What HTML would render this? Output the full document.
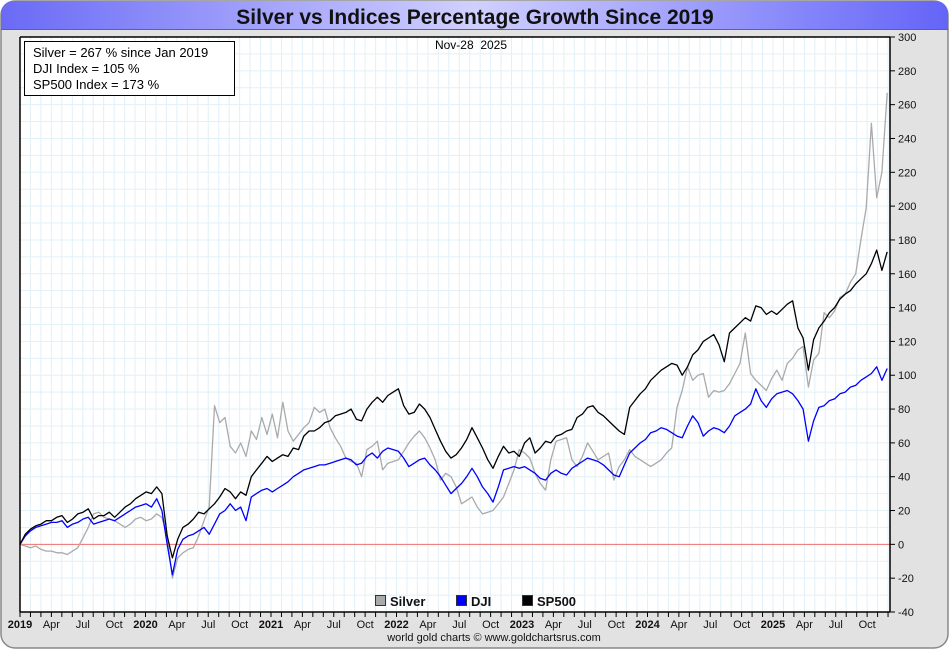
<!DOCTYPE html>
<html><head><meta charset="utf-8">
<style>
html,body{margin:0;padding:0;background:#fff;}
#wrap{position:relative;width:950px;height:650px;overflow:hidden;font-family:"Liberation Sans",sans-serif;}
svg text{font-family:"Liberation Sans",sans-serif;}
</style></head>
<body>
<div id="wrap">
<svg id="chart" width="950" height="650" viewBox="0 0 950 650">
<defs>
<linearGradient id="ban" x1="0" x2="1" y1="0" y2="0">
<stop offset="0" stop-color="#6a6af6"/><stop offset="0.5" stop-color="#d0d0ff"/><stop offset="1" stop-color="#6464f8"/>
</linearGradient>
</defs>
<rect x="1" y="1" width="947" height="647" rx="14" fill="#e2e2e2" stroke="#888" stroke-width="1.5"/>
<path d="M1,29 L1,15 Q1,1 15,1 L934,1 Q948,1 948,15 L948,29 Z" fill="url(#ban)"/>
<line x1="1" y1="29.5" x2="948" y2="29.5" stroke="#666" stroke-width="1"/>
<text x="475" y="24" text-anchor="middle" font-size="21" font-weight="bold" fill="#111">Silver vs Indices Percentage Growth Since 2019</text>
<rect x="20" y="37" width="870" height="575" fill="#fff"/>
<g id="grid"></g>
<g id="series"></g>
<line x1="20" y1="37" x2="890" y2="37" stroke="#000" stroke-width="1.5"/>
<line x1="20" y1="37" x2="20" y2="612" stroke="#000" stroke-width="1.5"/>
<line x1="20" y1="612" x2="890" y2="612" stroke="#000" stroke-width="1.5"/>
<line x1="890" y1="37" x2="890" y2="612" stroke="#000" stroke-width="1.5"/>
<g id="axes"></g>
<rect x="24.5" y="41.5" width="210" height="54" fill="#fff" stroke="#000" stroke-width="1"/>
<text x="33" y="57" font-size="13" fill="#000">Silver = 267 % since Jan 2019</text>
<text x="33" y="73" font-size="13" fill="#000">DJI Index = 105 %</text>
<text x="33" y="89" font-size="13" fill="#000">SP500 Index = 173 %</text>
<text x="471" y="49" text-anchor="middle" font-size="12" fill="#000">Nov-28&#160;&#160;2025</text>
<g>
<g><rect x="375.5" y="595.5" width="10" height="10" fill="#aaa" stroke="#333"/><text x="390" y="606" font-size="13" font-weight="bold" fill="#111">Silver</text></g>
<g><rect x="456.5" y="595.5" width="10" height="10" fill="#0000ff" stroke="#333"/><text x="471" y="606" font-size="13" font-weight="bold" fill="#111">DJI</text></g>
<g><rect x="522.5" y="595.5" width="10" height="10" fill="#000" stroke="#333"/><text x="537" y="606" font-size="13" font-weight="bold" fill="#111">SP500</text></g>
</g>
<text x="494" y="641" text-anchor="middle" font-size="11" fill="#111">world gold charts © www.goldchartsrus.com</text>
</svg>
</div>
<script>
// semi-monthly values (percent growth since Jan 2019), Jan 2019 .. Nov 2025
const silverValues = [
0,-1,-2,-1,-3,-4,-4,-5,-5,-6,-4,-2,4,10,18,19,16,15,14,12,10,12,15,16,
14,15,18,16,5,-20,-8,-5,-3,-2,5,14,22,82,72,75,58,54,60,52,67,62,75,65,
77,63,84,67,61,65,69,72,81,78,80,69,63,58,51,49,48,40,56,58,61,44,48,49,
50,55,60,64,67,63,57,50,38,42,40,34,24,26,28,22,18,19,20,24,28,36,44,56,
54,51,42,36,32,50,61,62,63,50,46,52,60,55,50,52,54,38,46,50,56,52,50,48,
46,48,50,54,57,81,91,105,97,100,101,87,91,90,91,95,101,107,125,101,97,94,91,98,
103,97,107,110,115,117,93,109,113,137,134,138,146,148,155,160,180,199,249,205,220,267];
const djiValues = [
0,5,8,10,11,12,13,13,14,10,12,13,15,16,12,13,14,15,14,16,18,20,22,23,
24,22,27,20,0,-18,-3,3,5,6,8,10,6,12,18,20,24,20,22,14,28,30,32,33,
31,33,35,37,40,42,44,45,46,47,47,48,49,50,51,50,47,48,52,54,51,55,57,56,
55,51,46,48,50,51,47,44,40,35,30,33,36,40,45,40,34,30,25,34,44,45,46,45,
46,44,42,39,38,42,44,42,41,45,47,49,51,50,49,47,44,41,40,47,54,57,60,62,
66,67,69,68,66,64,63,70,76,72,64,67,69,68,66,70,76,78,80,83,92,85,81,86,
89,90,91,89,85,80,61,73,81,82,85,86,89,90,93,94,97,99,101,105,97,104];
const sp500Values = [
0,6,9,11,12,14,14,16,17,13,15,18,19,21,15,17,17,19,16,19,22,24,27,29,
31,30,34,30,5,-8,3,10,12,15,19,18,21,24,28,33,31,27,31,29,40,44,48,52,
49,51,53,52,57,56,64,67,67,69,72,73,76,77,78,80,74,73,80,84,87,84,88,90,
92,82,77,78,83,80,75,68,61,55,51,53,57,62,69,63,57,50,45,52,58,54,55,52,
60,63,54,57,61,60,64,65,67,68,75,77,81,82,78,76,73,70,67,65,81,85,89,92,
97,100,103,105,107,106,100,105,112,115,120,122,124,118,108,125,128,131,134,132,141,140,136,138,
136,139,142,144,128,122,103,121,128,132,137,140,145,148,150,154,157,160,166,174,162,173];
const yTicks = [300,280,260,240,220,200,180,160,140,120,100,80,60,40,20,0,-20,-40];
const monthLabels = ["Jan","Apr","Jul","Oct"];
const years = [2019,2020,2021,2022,2023,2024,2025];
const lastT = 6.91; // years since Jan 2019 at last point

const NS="http://www.w3.org/2000/svg";
const X0=20, X1=890, Y0=37, Y1=612, YMIN=-40, YMAX=300, PXYEAR=125.5;
function xScale(t){return X0+t*PXYEAR;}
function yScale(v){return Y1-(v-YMIN)/(YMAX-YMIN)*(Y1-Y0);}
function mk(tag,attrs,parent){const e=document.createElementNS(NS,tag);for(const k in attrs)e.setAttribute(k,attrs[k]);parent.appendChild(e);return e;}

const grid=document.getElementById('grid');
for(let m=1;m<84;m++){const x=xScale(m/12);if(x>=X1)break;
 mk('line',{x1:x,y1:Y0,x2:x,y2:Y1,stroke:'#e2f0f8','stroke-width':1},grid);}
for(let v=YMIN+10;v<YMAX;v+=10){const y=yScale(v);
 mk('line',{x1:X0,y1:y,x2:X1,y2:y,stroke:'#e2f0f8','stroke-width':1},grid);}
const zl=mk('line',{x1:X0,y1:yScale(0),x2:X1,y2:yScale(0),stroke:'#f07070','stroke-width':1},grid);



const axes=document.getElementById('axes');
yTicks.forEach(v=>{const y=yScale(v);
 mk('line',{x1:X1,y1:y,x2:X1+5,y2:y,stroke:'#000'},axes);
 const t=mk('text',{x:X1+8,y:y+4,'font-size':11,fill:'#111'},axes);t.textContent=v;
 
 });
for(let m=0;m<84;m++){const x=xScale(m/12);if(x>X1)break;
 mk('line',{x1:x,y1:Y1,x2:x,y2:Y1+5,stroke:'#000'},axes);
 if(m%3===0){const yi=Math.floor(m/12);const q=(m%12)/3;
  const lab=q===0?String(years[yi]):monthLabels[q];
  const t=mk('text',{x:x,y:628,'font-size':11,'text-anchor':'middle',fill:'#111','font-weight':q===0?'bold':'normal'},axes);
  t.textContent=lab;
  
  }}

const sg=document.getElementById('series');
function drawSeries(vals,color,name){const n=vals.length;
 const pts=vals.map((v,i)=>xScale(i*lastT/(n-1)).toFixed(1)+','+yScale(v).toFixed(1)).join(' ');
 const p=mk('polyline',{points:pts,fill:'none',stroke:color,'stroke-width':1.3,'stroke-linejoin':'round'},sg);
 
 }
drawSeries(silverValues,'#aaaaaa','silver-line');
drawSeries(djiValues,'#0000ff','dji-line');
drawSeries(sp500Values,'#000000','sp500-line');
</script>
</body></html>
